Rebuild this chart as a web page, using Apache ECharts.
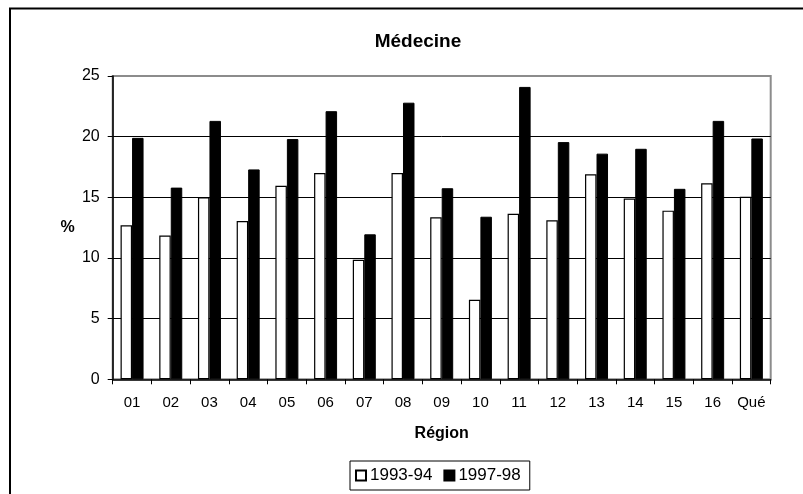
<!DOCTYPE html>
<html>
<head>
<meta charset="utf-8">
<script src="https://cdn.jsdelivr.net/npm/echarts@6/dist/echarts.min.js"></script>
<style>
  html, body { margin: 0; padding: 0; background: #fff; }
  #chart { width: 803px; height: 494px; }
</style>
</head>
<body>
<div id="chart"></div>
<script>
// Régions administratives du Québec (01 à 16) et ensemble du Québec
const regions = ['01', '02', '03', '04', '05', '06', '07', '08', '09', '10', '11', '12', '13', '14', '15', '16', 'Qué'];

// Pourcentages par région
const values9394 = [12.7, 11.85, 15.0, 13.05, 15.95, 17.0, 9.85, 17.0, 13.35, 6.55, 13.65, 13.1, 16.9, 14.9, 13.9, 16.15, 15.05];
const values9798 = [19.9, 15.8, 21.3, 17.3, 19.8, 22.1, 11.95, 22.8, 15.75, 13.4, 24.1, 19.55, 18.6, 19.0, 15.7, 21.3, 19.85];

const yTicks = { min: 0, max: 25, interval: 5 };

const FONT = '"Liberation Sans", Arial, sans-serif';

const chart = echarts.init(document.getElementById('chart'), null, { renderer: 'canvas' });

chart.setOption({
  backgroundColor: '#ffffff',
  animation: false,
  title: {
    text: 'Médecine',
    left: 413,
    top: 27,
    textAlign: 'center',
    textStyle: { fontFamily: FONT, fontSize: 19, fontWeight: 'bold', color: '#000' }
  },
  legend: {
    data: ['1993-94', '1997-98'],
    left: 350,
    top: 461,
    orient: 'horizontal',
    icon: 'rect',
    itemWidth: 10,
    itemHeight: 10,
    itemGap: 11,
    padding: [5, 9, 5, 5],
    borderColor: '#000',
    borderWidth: 1,
    textStyle: { fontFamily: FONT, fontSize: 17, color: '#000', padding: [0, 0, 0, -1], lineHeight: 19 }
  },
  grid: {
    left: 112.7,
    right: 32.3,
    top: 76,
    bottom: 114.7,
    show: true,
    borderColor: '#8c8c8c',
    borderWidth: 2,
    backgroundColor: 'transparent',
    containLabel: false
  },
  xAxis: {
    type: 'category',
    data: regions,
    name: 'Région',
    nameLocation: 'middle',
    nameGap: 46,
    nameTextStyle: { fontFamily: FONT, fontSize: 16, fontWeight: 'bold', color: '#000' },
    axisLine: { show: true, lineStyle: { color: '#000', width: 1.5 } },
    axisTick: { show: true, alignWithLabel: false, length: 5, lineStyle: { color: '#000' } },
    axisLabel: { fontFamily: FONT, fontSize: 15, color: '#000', margin: 16 },
    splitLine: { show: false }
  },
  yAxis: {
    type: 'value',
    min: yTicks.min,
    max: yTicks.max,
    interval: yTicks.interval,
    name: '%',
    nameLocation: 'middle',
    nameRotate: 0,
    nameGap: 38,
    nameTextStyle: { fontFamily: FONT, fontSize: 16, fontWeight: 'bold', color: '#000' },
    axisLine: { show: true, lineStyle: { color: '#000', width: 1.5 } },
    axisTick: { show: true, length: 5, lineStyle: { color: '#000' } },
    axisLabel: { fontFamily: FONT, fontSize: 16, color: '#000', margin: 13 },
    splitLine: { show: true, showMinLine: false, showMaxLine: false, lineStyle: { color: '#000', width: 1 } }
  },
  series: [
    {
      name: '1993-94',
      type: 'bar',
      data: values9394,
      barWidth: 11.5,
      barGap: '0%',
      itemStyle: { color: '#ffffff', borderColor: '#000', borderWidth: 1.2 }
    },
    {
      name: '1997-98',
      type: 'bar',
      data: values9798,
      barWidth: 11.5,
      barGap: '0%',
      itemStyle: { color: '#000000', borderColor: '#000', borderWidth: 1 }
    }
  ],
  graphic: [
    {
      type: 'rect',
      silent: true,
      z: 100,
      shape: { x: 10, y: 8.5, width: 830, height: 520 },
      style: { fill: null, stroke: '#000', lineWidth: 2 }
    }
  ]
});
</script>
</body>
</html>
